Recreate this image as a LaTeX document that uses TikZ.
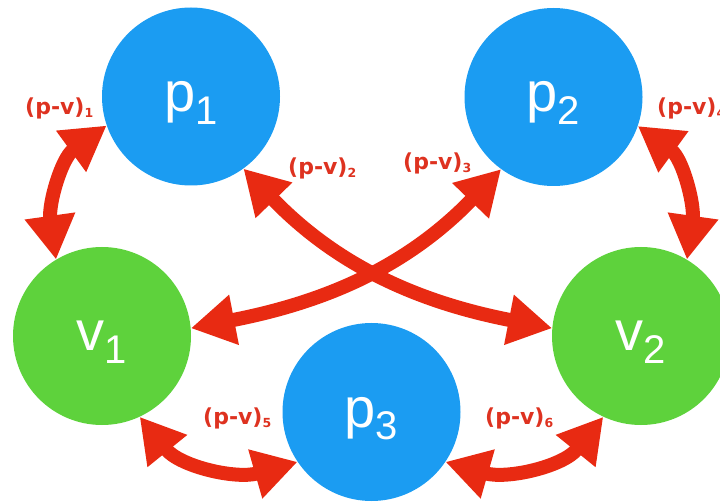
\documentclass[tikz,border=0pt]{standalone}
\usepackage{fontspec}
\setmainfont{Liberation Sans}
\newfontfamily\labfont{DejaVu Sans}
\usetikzlibrary{arrows.meta}
\definecolor{pblue}{RGB}{27,156,242}
\definecolor{vgreen}{RGB}{94,210,60}
\definecolor{ared}{RGB}{232,42,18}
\definecolor{lred}{RGB}{222,50,32}
\newcommand{\circtext}[2]{{\fontsize{56}{56}\selectfont #1}\raisebox{-13pt}{\fontsize{40}{40}\selectfont #2}}
\newcommand{\pvlab}[1]{{\fontsize{22}{22}\selectfont (p-v)}\raisebox{-3pt}{\fontsize{12.5}{12.5}\selectfont #1}}
\tikzset{
  pnode/.style={circle, fill=pblue, minimum size=178pt, inner sep=0pt, text=white, text height=30pt, text depth=0pt},
  vnode/.style={pnode, fill=vgreen},
  link/.style={draw=ared, line width=14pt, arrows={Triangle[length=44pt,width=48pt]-Triangle[length=44pt,width=48pt]}},
  pvl/.style={text=lred, font=\labfont\bfseries, inner sep=0pt, anchor=base west}
}
\begin{document}
\begin{tikzpicture}[x=1pt,y=1pt]
\useasboundingbox (0,0) rectangle (720,-502);
\clip (0,0) rectangle (720,-502);
\node[pnode] (p1) at (191,-96.5) {\circtext{p}{1}};
\node[pnode] (p2) at (553.5,-97) {\circtext{p}{2}};
\node[vnode] (v1) at (102,-336) {\circtext{v}{1}};
\node[vnode] (v2) at (641,-336) {\circtext{v}{2}};
\node[pnode] (p3) at (371.5,-412) {\circtext{p}{3}};
\draw[link] (p1.199) to[out=216,in=98] (v1.121);
\draw[link] (p1.306) to[out=314,in=169] (v2.175);
\draw[link] (p2.234) to[out=226,in=11] (v1.5);
\draw[link] (p2.341) to[out=324,in=82] (v2.59);
\draw[link] (v1.295) to[out=309,in=196] (p3.214);
\draw[link] (v2.245) to[out=231,in=344] (p3.326);
\node[pvl] (l1) at (25,-115) {\pvlab{1}};
\node[pvl] (l2) at (288,-175) {\pvlab{2}};
\node[pvl] (l3) at (403,-170) {\pvlab{3}};
\node[pvl] (l4) at (657,-115) {\pvlab{4}};
\node[pvl] (l5) at (203,-424) {\pvlab{5}};
\node[pvl] (l6) at (485,-424) {\pvlab{6}};
\end{tikzpicture}
\end{document}
